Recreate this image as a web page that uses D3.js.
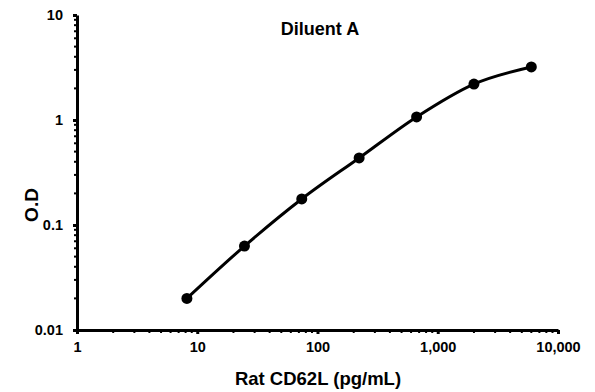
<!DOCTYPE html>
<html>
<head>
<meta charset="utf-8">
<script src="https://cdn.jsdelivr.net/npm/d3@7"></script>
<style>
  body { margin: 0; background: #fff; }
  text { font-family: "Liberation Sans", Arial, sans-serif; font-weight: bold; fill: #000; }
</style>
</head>
<body>
<div id="chart"></div>
<script>
// standard curve data
var concentrations = [8.2, 24.7, 74, 222, 667, 2000, 6000];
var odValues = [0.020, 0.063, 0.177, 0.435, 1.07, 2.2, 3.2];
var xTicks = [1, 10, 100, 1000, 10000];
var yTicks = [0.01, 0.1, 1, 10];

var width = 595, height = 392;
var margin = {top: 15, right: 37, bottom: 62, left: 77};

var svg = d3.select("#chart")
  .append("svg")
  .attr("width", width)
  .attr("height", height);

var x = d3.scaleLog()
  .domain([1, 10000])
  .range([margin.left, width - margin.right]);

var y = d3.scaleLog()
  .domain([0.01, 10])
  .range([height - margin.bottom, margin.top]);

var fmtX = d3.format(",");

// minor ticks
var xMinor = [], yMinor = [];
for (var d = 1; d < 10000; d *= 10) {
  for (var k = 2; k < 10; k++) xMinor.push(d * k);
}
for (var e = 0.01; e < 9; e *= 10) {
  for (var m = 2; m < 10; m++) yMinor.push(e * m);
}

var xAxis = svg.append("g")
  .attr("transform", "translate(0," + y(0.01) + ")");
xAxis.selectAll("line.minor")
  .data(xMinor).enter().append("line")
  .attr("x1", function (d) { return x(d); })
  .attr("x2", function (d) { return x(d); })
  .attr("y1", 0).attr("y2", 3)
  .attr("stroke", "#000").attr("stroke-width", 2);
xAxis.call(d3.axisBottom(x).tickValues(xTicks).tickFormat(fmtX).tickSize(4).tickPadding(8).tickSizeOuter(0));

var yAxis = svg.append("g")
  .attr("transform", "translate(" + x(1) + ",0)");
yAxis.selectAll("line.minor")
  .data(yMinor).enter().append("line")
  .attr("y1", function (d) { return y(d); })
  .attr("y2", function (d) { return y(d); })
  .attr("x1", 0).attr("x2", -3)
  .attr("stroke", "#000").attr("stroke-width", 2);
yAxis.call(d3.axisLeft(y).tickValues(yTicks).tickFormat(function (d) { return String(+d.toPrecision(2)); }).tickSize(4).tickPadding(10).tickSizeOuter(0));

svg.selectAll(".domain").attr("stroke", "#000").attr("stroke-width", 3);
svg.selectAll(".tick line").attr("stroke", "#000").attr("stroke-width", 3);
svg.selectAll(".tick text").style("font-size", "14.5px").style("font-family", "Liberation Sans, Arial, sans-serif").style("font-weight", "bold").attr("fill", "#000");

var pts = concentrations.map(function (c, i) { return [c, odValues[i]]; });

svg.append("path")
  .datum(pts)
  .attr("fill", "none")
  .attr("stroke", "#000")
  .attr("stroke-width", 3)
  .attr("d", d3.line()
    .x(function (d) { return x(d[0]); })
    .y(function (d) { return y(d[1]); })
    .curve(d3.curveMonotoneX));

svg.selectAll("circle.pt")
  .data(pts).enter().append("circle")
  .attr("cx", function (d) { return x(d[0]); })
  .attr("cy", function (d) { return y(d[1]); })
  .attr("r", 5.5)
  .attr("fill", "#000");

svg.append("text")
  .attr("x", 320).attr("y", 35)
  .attr("text-anchor", "middle")
  .style("font-size", "18px")
  .text("Diluent A");

svg.append("text")
  .attr("x", 318).attr("y", 385)
  .attr("text-anchor", "middle")
  .style("font-size", "18.5px")
  .text("Rat CD62L (pg/mL)");

svg.append("text")
  .attr("transform", "translate(38," + 205 + ") rotate(-90)")
  .attr("text-anchor", "middle")
  .style("font-size", "19px")
  .text("O.D");
</script>
</body>
</html>
